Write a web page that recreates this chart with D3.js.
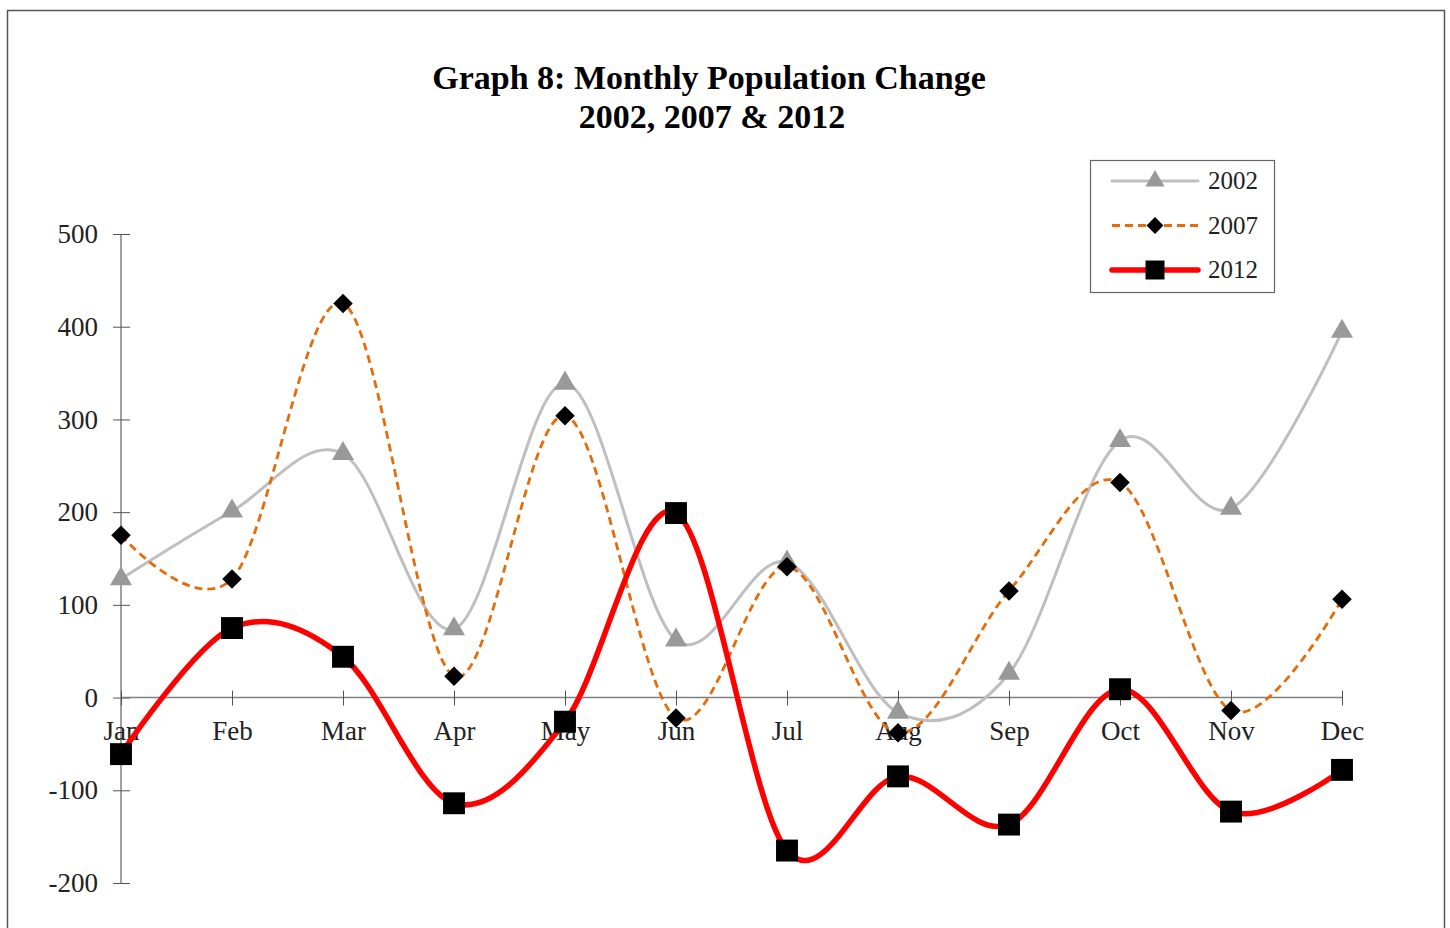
<!DOCTYPE html>
<html>
<head>
<meta charset="utf-8">
<script src="https://cdn.jsdelivr.net/npm/d3@7/dist/d3.min.js"></script>
<style>
  body { margin: 0; background: #fff; }
  svg { display: block; font-family: "Liberation Serif", "Times New Roman", serif; }
</style>
</head>
<body>
<svg id="chart" width="1450" height="928"></svg>
<script>
// data
var months = ['Jan', 'Feb', 'Mar', 'Apr', 'May', 'Jun', 'Jul', 'Aug', 'Sep', 'Oct', 'Nov', 'Dec'];
var pop2002 = [128, 201, 263, 74, 339, 62, 146, -16, 26, 277, 204, 395];
var pop2007 = [175, 128, 425, 23, 304, -22, 141, -38, 115, 232, -14, 106];
var pop2012 = [-61, 75, 44, -114, -26, 199, -165, -85, -137, 9, -123, -78];
var yTicks = [-200, -100, 0, 100, 200, 300, 400, 500];

var series = [
  {name: '2002', values: pop2002, color: '#bfbfbf', width: 3, dash: null, marker: 'triangle', fill: '#999999', size: 210, rot: 0},
  {name: '2007', values: pop2007, color: '#e46c0a', width: 2.8, dash: '8 5', marker: 'square', fill: '#000', size: 190, rot: 45},
  {name: '2012', values: pop2012, color: '#ff0000', width: 5.5, dash: null, marker: 'square', fill: '#000', size: 480, rot: 0}
];

var svg = d3.select('#chart');

var x = d3.scalePoint()
  .domain(months)
  .range([121, 1342]);

var y = d3.scaleLinear()
  .domain([-200, 500])
  .range([883, 234]);

var symbols = {
  triangle: d3.symbolTriangle,
  square: d3.symbolSquare
};

// outer frame
svg.append('rect')
  .attr('x', 7.5).attr('y', 10.5)
  .attr('width', 1437).attr('height', 940)
  .attr('fill', 'none')
  .attr('stroke', '#555')
  .attr('stroke-width', 1.5);

// title
var title = svg.append('text')
  .attr('text-anchor', 'middle')
  .attr('font-weight', 'bold')
  .attr('font-size', 34)
  .attr('fill', '#000');
title.append('tspan').attr('x', 709).attr('y', 89).text('Graph 8: Monthly Population Change');
title.append('tspan').attr('x', 712).attr('y', 128).text('2002, 2007 & 2012');

// y axis
var yAxis = svg.append('g')
  .attr('transform', 'translate(' + x('Jan') + ',0)')
  .call(d3.axisLeft(y).tickValues(yTicks).tickFormat(function(d) { return String(d); }).tickSize(8).tickPadding(15));
yAxis.select('.domain').attr('stroke', '#808080').attr('stroke-width', 1.5).attr('d', 'M0,' + y(500) + 'V' + y(-200));
yAxis.selectAll('.tick line').attr('x1', 9).attr('x2', -8).attr('stroke', '#555');
yAxis.selectAll('.tick text')
  .attr('font-family', '"Liberation Serif", serif')
  .attr('font-size', 27)
  .attr('fill', '#222');

// x axis at zero
var xAxis = svg.append('g')
  .attr('transform', 'translate(0,' + y(0) + ')')
  .call(d3.axisBottom(x).tickSize(8).tickPadding(15));
xAxis.select('.domain').attr('stroke', '#808080').attr('stroke-width', 1.5).attr('d', 'M' + x('Jan') + ',0H' + x('Dec'));
xAxis.selectAll('.tick line').attr('y1', -7).attr('y2', 8).attr('stroke', '#555');
xAxis.selectAll('.tick text')
  .attr('font-family', '"Liberation Serif", serif')
  .attr('font-size', 27)
  .attr('fill', '#222');

// smoothed lines
var line = d3.line()
  .x(function(d, i) { return x(months[i]); })
  .y(function(d) { return y(d); })
  .curve(d3.curveCardinal.tension(0));

series.forEach(function(s) {
  svg.append('path')
    .datum(s.values)
    .attr('fill', 'none')
    .attr('stroke', s.color)
    .attr('stroke-width', s.width)
    .attr('stroke-dasharray', s.dash)
    .attr('stroke-linecap', s.dash ? 'butt' : 'round')
    .attr('d', line);
});

series.forEach(function(s) {
  svg.selectAll('path.m' + s.name)
    .data(s.values)
    .enter().append('path')
    .attr('class', 'm' + s.name)
    .attr('transform', function(d, i) { return 'translate(' + x(months[i]) + ',' + y(d) + ') rotate(' + s.rot + ')'; })
    .attr('d', d3.symbol().type(symbols[s.marker]).size(s.size))
    .attr('fill', s.fill);
});

// legend
var legend = svg.append('g');
legend.append('rect')
  .attr('x', 1090.5).attr('y', 160.5)
  .attr('width', 184).attr('height', 132)
  .attr('fill', '#fff')
  .attr('stroke', '#666')
  .attr('stroke-width', 1.2);

series.forEach(function(s, i) {
  var ly = 181 + i * 44.5;
  legend.append('line')
    .attr('x1', 1112).attr('x2', 1198)
    .attr('y1', ly).attr('y2', ly)
    .attr('stroke', s.color)
    .attr('stroke-width', s.width)
    .attr('stroke-dasharray', s.dash)
    .attr('stroke-linecap', s.dash ? 'butt' : 'round');
  legend.append('path')
    .attr('transform', 'translate(1155,' + ly + ') rotate(' + s.rot + ')')
    .attr('d', d3.symbol().type(symbols[s.marker]).size(s.size * 0.75))
    .attr('fill', s.fill);
  legend.append('text')
    .attr('x', 1208).attr('y', ly + 8)
    .attr('font-size', 25)
    .attr('fill', '#222')
    .text(s.name);
});
</script>
</body>
</html>
